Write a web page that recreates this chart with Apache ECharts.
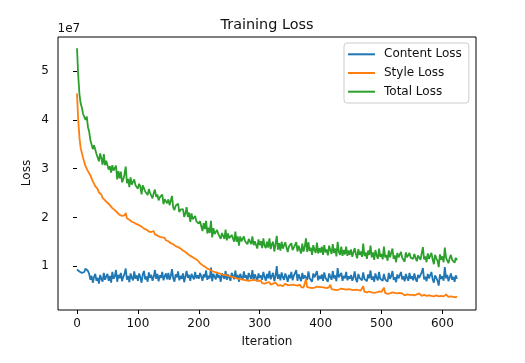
<!DOCTYPE html>
<html>
<head>
<meta charset="utf-8">
<script src="https://cdn.jsdelivr.net/npm/echarts@6/dist/echarts.min.js"></script>
<style>
html,body{margin:0;padding:0;background:#fff;}
#chart{width:525px;height:363px;}
</style>
</head>
<body>
<div id="chart"></div>
<script>
// Values are in units of 1e7 (the axis offset label), one value every 2 iterations (0..624)
const contentLoss = [
0.93,0.91,0.89,0.92,0.86,0.90,0.88,0.95,0.98,0.90,0.84,0.72,0.80,0.66,0.78,0.84,0.70,0.76,0.64,0.82,0.74,0.68,0.86,0.72,0.79,
0.84,0.70,0.80,0.66,0.88,0.74,0.79,0.92,0.68,0.82,0.75,0.86,0.69,0.78,0.84,0.95,0.72,0.80,0.67,0.85,0.76,0.71,0.89,0.74,0.81,
0.70,0.85,0.77,0.66,0.83,0.90,0.73,0.79,0.68,0.87,0.76,0.82,0.70,0.78,0.92,0.74,0.84,0.69,0.81,0.76,0.88,0.71,0.79,0.85,0.73,
0.86,0.72,0.80,0.94,0.75,0.68,0.83,0.77,0.89,0.71,0.80,0.74,0.85,0.67,0.79,0.90,0.76,0.82,0.70,0.84,0.78,0.73,0.88,0.75,0.81,
0.74,0.86,0.79,0.70,0.83,0.77,0.91,0.72,0.80,0.75,0.97,0.69,0.84,0.78,0.73,0.88,0.76,0.81,0.68,0.85,0.79,0.74,0.90,0.72,0.83,
0.77,0.70,0.86,0.80,0.73,0.91,0.75,0.82,0.68,0.84,0.78,0.72,0.89,0.76,0.81,0.70,0.86,0.79,0.74,0.92,0.71,0.83,0.77,0.69,0.85,
0.76,0.81,0.72,0.88,0.78,0.70,0.84,0.75,0.90,0.73,0.80,0.86,0.69,0.79,1.00,0.74,0.83,0.71,0.87,0.77,0.72,0.85,0.78,0.68,0.82,
0.75,0.88,0.71,0.80,0.77,0.92,0.70,0.83,0.76,0.69,0.86,0.74,0.81,0.84,0.72,0.89,0.75,0.79,0.68,0.85,0.77,0.73,0.90,0.71,0.80,
0.74,0.83,0.70,0.87,0.76,0.79,0.68,0.85,0.78,0.72,0.90,0.75,0.81,0.69,0.96,0.77,0.73,0.86,0.70,0.80,0.75,0.88,0.71,0.79,0.74,
0.82,0.70,0.77,0.89,0.73,0.67,0.84,0.76,0.80,0.71,0.87,0.74,0.78,0.69,0.83,0.75,0.91,0.72,0.79,0.68,0.85,0.76,0.71,0.88,0.74,
0.78,0.70,0.84,0.73,0.76,0.68,0.86,0.74,0.80,0.90,0.72,0.77,0.67,0.83,0.75,0.71,0.88,0.73,0.79,0.69,0.84,0.76,0.70,0.86,0.74,
0.79,0.71,0.85,0.74,0.68,0.82,0.76,0.72,0.87,0.96,0.73,0.78,0.69,0.84,0.75,0.71,0.88,0.73,0.66,0.81,0.76,0.70,0.60,0.83,0.74,
0.79,0.70,0.98,0.75,0.82,0.69,0.77,0.85,0.72,0.78,0.68,0.81,0.74
];
const styleLoss = [
4.54,4.00,3.64,3.42,3.39,3.22,3.24,3.05,3.09,2.95,2.92,2.86,2.80,2.74,2.70,2.64,2.60,2.58,2.51,2.49,2.47,2.40,2.44,2.35,2.37,
2.30,2.28,2.25,2.26,2.19,2.22,2.15,2.14,2.10,2.13,2.05,2.08,2.03,2.00,2.04,2.09,1.98,1.99,1.95,1.97,1.91,1.94,1.89,1.92,1.86,
1.89,1.84,1.86,1.81,1.83,1.77,1.80,1.75,1.78,1.71,1.74,1.70,1.69,1.72,1.65,1.68,1.63,1.66,1.60,1.61,1.59,1.56,1.58,1.53,1.56,
1.51,1.53,1.47,1.50,1.45,1.47,1.41,1.44,1.39,1.40,1.36,1.38,1.32,1.34,1.29,1.31,1.25,1.28,1.21,1.24,1.18,1.20,1.15,1.17,1.12,
1.13,1.06,1.09,1.02,1.05,0.99,1.02,0.95,0.99,0.93,0.96,0.90,0.94,0.88,0.92,0.86,0.90,0.85,0.88,0.83,0.87,0.82,0.85,0.81,0.84,
0.80,0.83,0.78,0.81,0.77,0.80,0.75,0.79,0.74,0.77,0.73,0.76,0.72,0.75,0.71,0.75,0.70,0.73,0.71,0.69,0.72,0.68,0.71,0.67,0.70,
0.67,0.70,0.65,0.69,0.64,0.67,0.66,0.63,0.67,0.62,0.65,0.64,0.61,0.66,0.62,0.60,0.64,0.61,0.63,0.59,0.62,0.64,0.60,0.61,0.58,
0.61,0.59,0.62,0.58,0.61,0.57,0.60,0.59,0.62,0.57,0.60,0.56,0.59,0.73,0.57,0.60,0.56,0.59,0.55,0.58,0.56,0.54,0.58,0.55,0.57,
0.54,0.57,0.53,0.56,0.52,0.55,0.54,0.57,0.62,0.53,0.55,0.52,0.55,0.51,0.54,0.52,0.50,0.54,0.51,0.53,0.49,0.52,0.50,0.53,0.49,
0.52,0.49,0.51,0.48,0.52,0.49,0.51,0.47,0.50,0.48,0.59,0.47,0.50,0.46,0.49,0.48,0.51,0.46,0.49,0.45,0.48,0.46,0.44,0.48,0.45,
0.47,0.44,0.56,0.45,0.47,0.43,0.46,0.44,0.42,0.46,0.43,0.45,0.41,0.44,0.43,0.45,0.41,0.44,0.42,0.40,0.44,0.42,0.45,0.41,0.43,
0.41,0.44,0.40,0.43,0.42,0.40,0.44,0.41,0.39,0.43,0.41,0.42,0.39,0.42,0.40,0.43,0.39,0.41,0.38,0.42,0.40,0.41,0.38,0.41,0.39,
0.41,0.38,0.40,0.42,0.39,0.37,0.40,0.38,0.41,0.37,0.39,0.36,0.38
];
const totalLoss = [
5.47,4.91,4.53,4.34,4.25,4.12,4.12,4.00,4.07,3.85,3.76,3.58,3.60,3.40,3.48,3.48,3.30,3.34,3.15,3.31,3.21,3.08,3.30,3.07,3.16,
3.14,2.98,3.05,2.92,3.07,2.96,2.94,3.06,2.78,2.95,2.80,2.94,2.72,2.78,2.88,3.04,2.70,2.79,2.62,2.82,2.67,2.65,2.78,2.66,2.67,
2.59,2.69,2.63,2.47,2.66,2.67,2.53,2.54,2.46,2.58,2.50,2.52,2.39,2.50,2.57,2.42,2.47,2.35,2.41,2.37,2.47,2.27,2.37,2.38,2.29,
2.37,2.25,2.27,2.44,2.20,2.15,2.24,2.21,2.28,2.11,2.16,2.12,2.17,2.01,2.08,2.21,2.01,2.10,1.91,2.08,1.96,1.93,2.03,1.92,1.93,
1.87,1.92,1.88,1.72,1.88,1.76,1.93,1.67,1.79,1.68,1.93,1.59,1.78,1.66,1.65,1.74,1.66,1.66,1.56,1.68,1.66,1.56,1.75,1.53,1.67,
1.57,1.53,1.64,1.61,1.50,1.71,1.50,1.61,1.42,1.61,1.51,1.48,1.61,1.51,1.52,1.45,1.56,1.52,1.45,1.61,1.43,1.51,1.48,1.36,1.55,
1.43,1.51,1.37,1.57,1.42,1.37,1.50,1.38,1.57,1.35,1.45,1.50,1.30,1.45,1.62,1.34,1.47,1.32,1.50,1.36,1.34,1.49,1.38,1.29,1.40,
1.36,1.47,1.33,1.38,1.38,1.49,1.30,1.42,1.38,1.26,1.46,1.30,1.40,1.57,1.29,1.49,1.31,1.38,1.23,1.43,1.33,1.27,1.48,1.26,1.37,
1.28,1.40,1.23,1.43,1.28,1.34,1.22,1.42,1.40,1.25,1.45,1.27,1.36,1.20,1.50,1.29,1.23,1.40,1.21,1.33,1.24,1.40,1.21,1.32,1.23,
1.34,1.19,1.28,1.37,1.25,1.16,1.35,1.23,1.30,1.19,1.46,1.21,1.28,1.15,1.32,1.23,1.42,1.18,1.28,1.13,1.33,1.22,1.15,1.36,1.19,
1.25,1.14,1.40,1.18,1.23,1.11,1.32,1.18,1.22,1.36,1.15,1.22,1.08,1.27,1.18,1.16,1.29,1.17,1.21,1.09,1.28,1.18,1.15,1.27,1.17,
1.20,1.15,1.25,1.17,1.10,1.22,1.20,1.13,1.26,1.39,1.14,1.20,1.08,1.26,1.15,1.14,1.27,1.14,1.04,1.23,1.16,1.11,0.98,1.24,1.13,
1.20,1.08,1.38,1.17,1.21,1.06,1.17,1.23,1.13,1.15,1.07,1.17,1.12
];
const iterationStep = 2;
const xTicks = [0, 100, 200, 300, 400, 500, 600];
const yTicks = [1, 2, 3, 4, 5];
const seriesNames = ['Content Loss', 'Style Loss', 'Total Loss'];
const seriesColors = ['#1f77b4', '#ff7f0e', '#2ca02c'];

const iterations = contentLoss.map((_, k) => k * iterationStep);
const pairs = arr => arr.map((v, k) => [iterations[k], v]);

const FONT = 'DejaVu Sans';
const chart = echarts.init(document.getElementById('chart'), null, {renderer: 'canvas'});
chart.setOption({
  animation: false,
  backgroundColor: '#ffffff',
  grid: {left: 58, top: 37, width: 418, height: 273, show: true, borderColor: '#000', borderWidth: 1, backgroundColor: 'transparent'},
  xAxis: {
    type: 'value', min: -31.2, max: 655.2,
    axisLine: {show: false},
    splitLine: {show: false},
    axisTick: {show: true, length: 4, lineStyle: {color: '#000', width: 1}, customValues: xTicks},
    axisLabel: {fontFamily: FONT, fontSize: 12, color: '#111', margin: 8, customValues: xTicks}
  },
  yAxis: {
    type: 'value', min: 0.1, max: 5.7,
    axisLine: {show: false},
    splitLine: {show: false},
    axisTick: {show: true, length: 4, lineStyle: {color: '#000', width: 1}, customValues: yTicks},
    axisLabel: {fontFamily: FONT, fontSize: 12, color: '#111', margin: 9, customValues: yTicks}
  },
  legend: {
    data: seriesNames,
    orient: 'vertical', left: 344, top: 43,
    icon: 'rect', itemWidth: 27, itemHeight: 2, itemGap: 4.7,
    padding: [4.3, 7, 4.3, 4],
    backgroundColor: 'rgba(255,255,255,0.8)', borderColor: '#cccccc', borderWidth: 1, borderRadius: 3,
    textStyle: {fontFamily: FONT, fontSize: 12, color: '#111', lineHeight: 14, padding: [0, 0, 0, 4]}
  },
  graphic: [
    {type: 'text', x: 267, y: 25, style: {text: 'Training Loss', font: '14.4px "DejaVu Sans"', fill: '#111', textAlign: 'center', textVerticalAlign: 'middle'}},
    {type: 'text', x: 57.5, y: 29, style: {text: '1e7', font: '12px "DejaVu Sans"', fill: '#111', textAlign: 'left', textVerticalAlign: 'middle'}},
    {type: 'text', x: 267, y: 342, style: {text: 'Iteration', font: '12px "DejaVu Sans"', fill: '#111', textAlign: 'center', textVerticalAlign: 'middle'}},
    {type: 'text', x: 27, y: 173, rotation: Math.PI / 2, style: {text: 'Loss', font: '12px "DejaVu Sans"', fill: '#111', textAlign: 'center', textVerticalAlign: 'middle'}}
  ],
  series: [
    {name: seriesNames[0], type: 'line', data: pairs(contentLoss), showSymbol: false, color: seriesColors[0], lineStyle: {width: 1.8}},
    {name: seriesNames[1], type: 'line', data: pairs(styleLoss), showSymbol: false, color: seriesColors[1], lineStyle: {width: 1.8}},
    {name: seriesNames[2], type: 'line', data: pairs(totalLoss), showSymbol: false, color: seriesColors[2], lineStyle: {width: 1.8}}
  ]
});
</script>
</body>
</html>
